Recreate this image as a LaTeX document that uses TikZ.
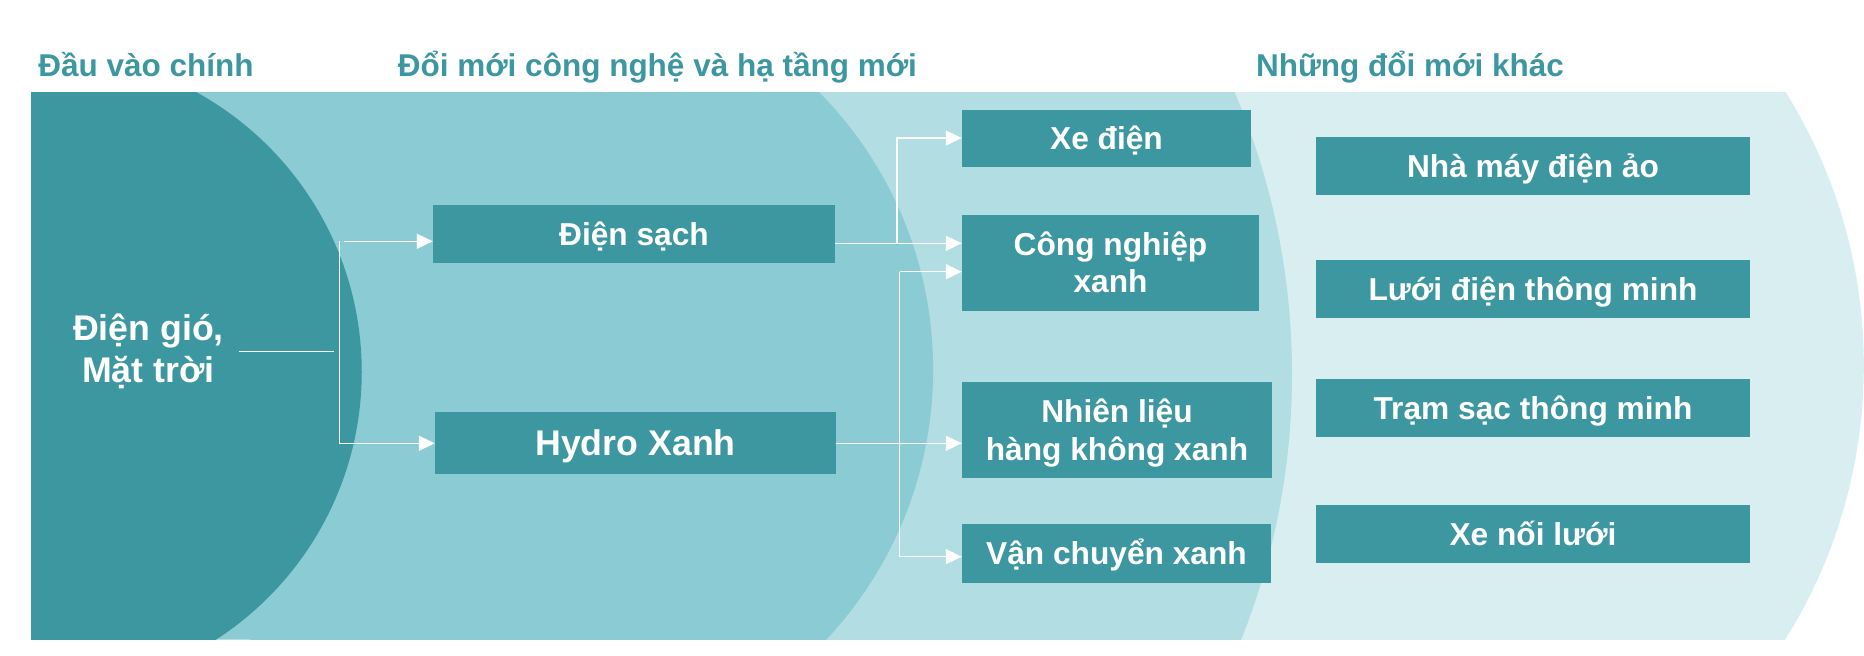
\documentclass[tikz,border=0pt]{standalone}
\usepackage{fontspec}
\setmainfont{Liberation Sans}
\usetikzlibrary{arrows.meta}
\definecolor{cA}{HTML}{3D97A1}
\definecolor{cB}{HTML}{8BCCD4}
\definecolor{cC}{HTML}{B2DDE3}
\definecolor{cD}{HTML}{D9EEF1}
\newcommand\bxfont{\fontsize{31.7pt}{37.7pt}\selectfont\bfseries}
\newcommand\bigfont{\fontsize{35.7pt}{42pt}\selectfont\bfseries}
\newcommand\ttlfont{\fontsize{31.5pt}{37pt}\selectfont\bfseries}
\begin{document}
\begin{tikzpicture}[x=1pt,y=-1pt,
  bx/.style={fill=cA, inner sep=0pt, text=white, font=\bxfont, text height=22.7pt, text depth=0pt},
  two/.style={text depth=37.7pt},
  bigbx/.style={bx, font=\bigfont, text height=25.6pt},
  ttl/.style={anchor=base, text=cA, font=\ttlfont, inner sep=0pt},
  conn/.style={draw=white, line width=1.3pt},
  arr/.style={conn, -{Triangle[length=16pt,width=15pt]}}]
\useasboundingbox (0,0) rectangle (1864,656);
% background layers
\begin{scope}
\clip (31,92) rectangle (1864,639);
\fill[cD] (31,92) rectangle (1347,639);
\fill[cD] (1347,365.5) circle[radius=516.8];
\fill[cC] (31,92) rectangle (575,639);
\fill[cC] (575,374) circle[radius=717];
\fill[cB] (31,92) rectangle (538.4,639);
\fill[cB] (538.4,369.6) circle[radius=394.7];
\fill[cA] (31,92) rectangle (42.75,639);
\fill[cA] (42.75,371.8) circle[radius=319];
\end{scope}
% titles
\node[ttl] (t1) at (146,76.7) {Đầu vào chính};
\node[ttl] (t2) at (657.4,76.7) {Đổi mới công nghệ và hạ tầng mới};
\node[ttl] (t3) at (1410,76.7) {Những đổi mới khác};
% source
\node[font=\bigfont, text=white, align=center, inner sep=0pt] (src) at (148.5,351) {Điện gió,\\Mặt trời};
% middle boxes
\node[bx, minimum width=402pt, minimum height=58pt] (ds) at (634,234) {Điện sạch};
\node[bigbx, minimum width=401pt, minimum height=62pt] (hx) at (635.5,443) {Hydro Xanh};
% third column
\node[bx, minimum width=289pt, minimum height=57pt] (xe) at (1106.5,138) {Xe điện};
\node[bx, two, minimum width=297pt, minimum height=96pt] (cn) at (1110.5,262.5) {\begin{tabular}[t]{@{}c@{}}Công nghiệp\\xanh\end{tabular}};
\node[bx, two, minimum width=310pt, minimum height=96pt] (nl) at (1117,430) {\begin{tabular}[t]{@{}c@{}}Nhiên liệu\\hàng không xanh\end{tabular}};
\node[bx, minimum width=309pt, minimum height=59pt] (vc) at (1116.5,553.5) {Vận chuyển xanh};
% right column
\node[bx, minimum width=434pt, minimum height=58pt] (r1) at (1533,165.7) {Nhà máy điện ảo};
\node[bx, minimum width=434pt, minimum height=58pt] (r2) at (1533,289) {Lưới điện thông minh};
\node[bx, minimum width=434pt, minimum height=58pt] (r3) at (1533,408) {Trạm sạc thông minh};
\node[bx, minimum width=434pt, minimum height=58pt] (r4) at (1533,534) {Xe nối lưới};
% connectors from source
\coordinate (j1) at (339.3,351.3);
\coordinate (j1t) at (339.3,241.3);
\coordinate (j1b) at (339.3,443.3);
\draw[conn, shorten <=15pt, shorten >=5pt] (src.east |- j1) -- (j1);
\draw[conn] (j1t) -- (j1b);
\draw[arr, shorten <=5pt] (j1t) -- (ds.west |- j1t);
\draw[arr] (j1b) -- (hx.west |- j1b);
% connectors from Dien sach
\coordinate (j2) at (897,243.3);
\draw[conn] (ds.east |- j2) -- (j2);
\draw[arr] (j2) |- (xe.west);
\draw[arr] (j2) -- (cn.west |- j2);
% connectors from Hydro
\coordinate (j3) at (899.7,443.3);
\coordinate (j3t) at (899.7,271.7);
\coordinate (j3b) at (899.7,556.7);
\draw[arr] (hx.east |- j3) -- (nl.west |- j3);
\draw[conn] (j3t) -- (j3b);
\draw[arr] (j3t) -- (cn.west |- j3t);
\draw[arr] (j3b) -- (vc.west |- j3b);
\end{tikzpicture}
\end{document}
